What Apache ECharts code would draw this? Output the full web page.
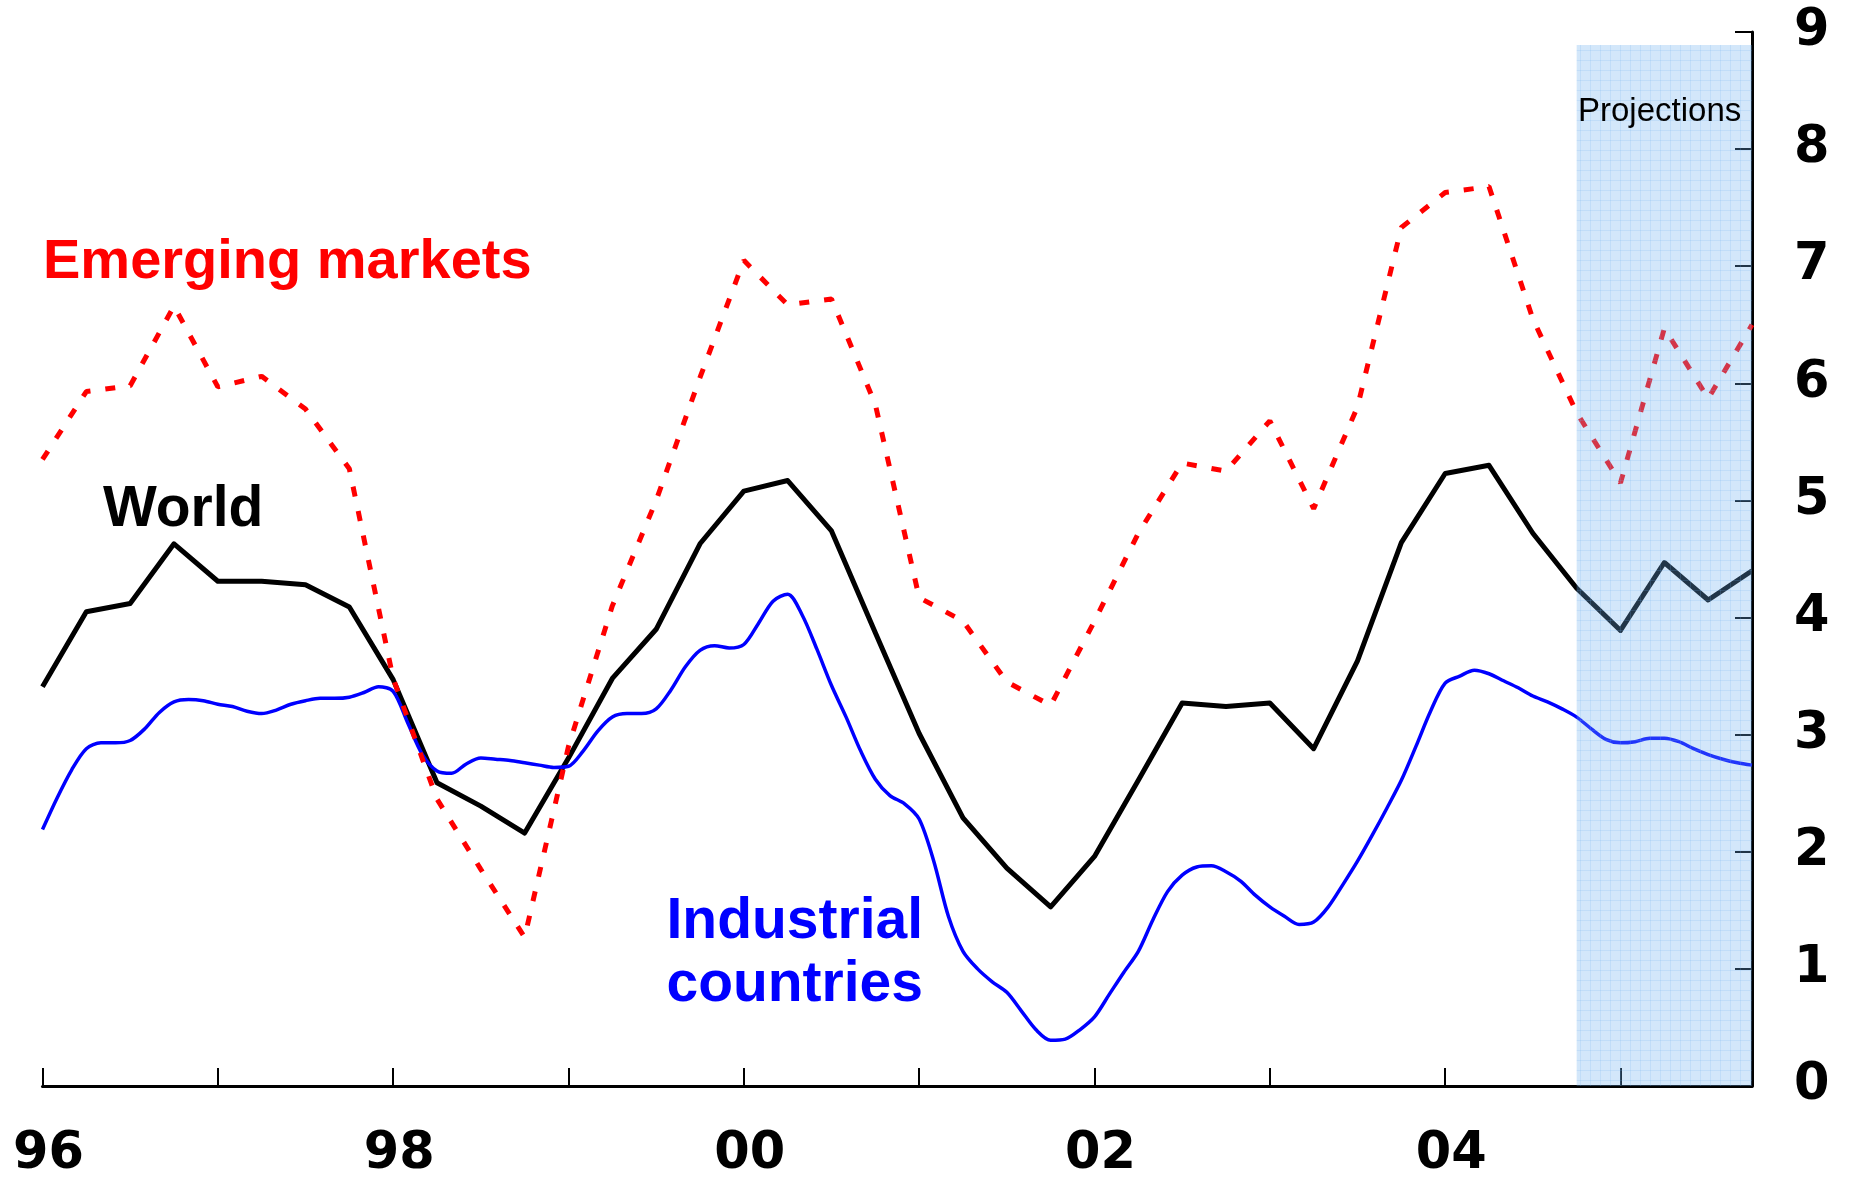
<!DOCTYPE html>
<html>
<head>
<meta charset="utf-8">
<script src="https://cdn.jsdelivr.net/npm/echarts@6/dist/echarts.min.js"></script>
<style>
  html, body { margin: 0; padding: 0; background: #fff; }
  #chart { width: 1850px; height: 1178px; }
</style>
</head>
<body>
<div id="chart"></div>
<script>
// quarterly dates, 1996Q1 .. 2005Q4
const quarters = Array.from({ length: 40 }, (_, i) => 1996 + i / 4)
// monthly dates for the industrial countries line
const months = Array.from({ length: 118 }, (_, i) => 1996 + i / 12)

const world = [
  3.41, 4.05, 4.12, 4.63, 4.31, 4.31, 4.28, 4.09, 3.47, 2.59,
  2.39, 2.16, 2.80, 3.48, 3.90, 4.63, 5.08, 5.17, 4.74, 3.87,
  3.01, 2.29, 1.86, 1.53, 1.96, 2.61, 3.27, 3.24, 3.27, 2.88,
  3.63, 4.64, 5.23, 5.30, 4.72, 4.25, 3.89, 4.47, 4.15, 4.40
]
const emerging = [
  5.35, 5.93, 5.98, 6.66, 5.97, 6.06, 5.78, 5.27, 3.48, 2.45,
  1.85, 1.27, 2.90, 4.10, 5.00, 6.05, 7.05, 6.67, 6.72, 5.82,
  4.17, 3.97, 3.45, 3.25, 3.97, 4.72, 5.32, 5.25, 5.68, 4.93,
  5.80, 7.33, 7.63, 7.68, 6.55, 5.75, 5.15, 6.47, 5.87, 6.50
]
const industrial = [
  2.19, 2.46, 2.70, 2.88, 2.93, 2.93, 2.95, 3.05, 3.19, 3.28, 3.30, 3.29,
  3.26, 3.24, 3.20, 3.18, 3.21, 3.26, 3.29, 3.31, 3.31, 3.32, 3.36, 3.41,
  3.37, 3.10, 2.83, 2.69, 2.67, 2.75, 2.80, 2.79, 2.78, 2.76, 2.74, 2.72,
  2.73, 2.86, 3.03, 3.15, 3.18, 3.18, 3.22, 3.38, 3.58, 3.72, 3.76, 3.74,
  3.77, 3.95, 4.14, 4.20, 4.02, 3.73, 3.42, 3.15, 2.86, 2.62, 2.48, 2.41,
  2.28, 1.92, 1.45, 1.15, 1.00, 0.89, 0.80, 0.64, 0.48, 0.39, 0.40, 0.48,
  0.59, 0.78, 0.97, 1.15, 1.42, 1.66, 1.80, 1.87, 1.88, 1.83, 1.75, 1.63,
  1.53, 1.45, 1.38, 1.40, 1.53, 1.72, 1.92, 2.14, 2.37, 2.61, 2.90, 3.20,
  3.44, 3.50, 3.55, 3.52, 3.46, 3.40, 3.33, 3.28, 3.22, 3.15, 3.05, 2.96,
  2.93, 2.94, 2.97, 2.97, 2.94, 2.88, 2.83, 2.79, 2.76, 2.74
]

const labelYears = [1996, 1998, 2000, 2002, 2004]
const labelText = ['96', '98', '00', '02', '04']
const projection = [2004.75, 2005.75]
const projectionTop = 8.89

// light blue squared texture for the projections box
function gridPattern() {
  const c = document.createElement('canvas')
  c.width = 10
  c.height = 10
  const ctx = c.getContext('2d')
  ctx.fillStyle = 'rgba(110,175,240,0.30)'
  ctx.fillRect(0, 0, 10, 10)
  ctx.fillStyle = 'rgba(110,175,240,0.18)'
  ctx.fillRect(0, 0, 10, 1)
  ctx.fillRect(0, 0, 1, 10)
  return c
}

const axisFont = {
  color: '#000',
  fontFamily: 'DejaVu Sans',
  fontWeight: 'bold',
  fontSize: 51
}

const chart = echarts.init(document.getElementById('chart'))

chart.setOption({
  animation: false,
  backgroundColor: '#fff',
  grid: { left: 42.5, right: 98, top: 32, bottom: 92, outerBoundsMode: 'none' },
  xAxis: {
    type: 'value',
    min: 1996,
    max: 2005.75,
    interval: 1,
    splitLine: { show: false },
    axisLine: { lineStyle: { color: '#000', width: 3 } },
    axisTick: { inside: true, length: 18, lineStyle: { color: '#000', width: 2 } },
    axisLabel: Object.assign({
      margin: 43,
      padding: [0, 0, 0, 12],
      showMaxLabel: false,
      formatter: v => {
        const i = labelYears.indexOf(v)
        return i >= 0 ? labelText[i] : ''
      }
    }, axisFont)
  },
  yAxis: {
    type: 'value',
    position: 'right',
    min: 0,
    max: 9,
    interval: 1,
    splitLine: { show: false },
    axisLine: { show: true, lineStyle: { color: '#000', width: 3 } },
    axisTick: { show: true, inside: true, length: 17, lineStyle: { color: '#000', width: 2 } },
    axisLabel: Object.assign({ margin: 42 }, axisFont)
  },
  series: [
    {
      name: 'World',
      type: 'line',
      showSymbol: false,
      data: quarters.map((t, i) => [t, world[i]]),
      lineStyle: { color: '#000', width: 5, join: 'round' },
      z: 2
    },
    {
      name: 'Industrial countries',
      type: 'line',
      showSymbol: false,
      smooth: 0.3,
      data: months.map((t, i) => [t, industrial[i]]),
      lineStyle: { color: '#0000ff', width: 3.5 },
      z: 3
    },
    {
      name: 'Emerging markets',
      type: 'line',
      showSymbol: false,
      data: quarters.map((t, i) => [t, emerging[i]]),
      lineStyle: { color: '#ff0000', width: 5, type: [10, 15], cap: 'butt' },
      z: 4
    },
    {
      name: 'Projections',
      type: 'line',
      data: [],
      z: 10,
      markArea: {
        silent: true,
        z: 10,
        itemStyle: { color: { image: gridPattern(), repeat: 'repeat' } },
        data: [[
          { xAxis: projection[0], yAxis: projectionTop },
          { xAxis: projection[1], yAxis: 0 }
        ]]
      }
    }
  ],
  graphic: [
    {
      type: 'text', x: 1578, y: 112, z: 20,
      style: {
        text: 'Projections', fill: '#000',
        font: '33px "Liberation Sans"',
        textAlign: 'left', textVerticalAlign: 'middle', align: 'left', verticalAlign: 'middle'
      }
    },
    {
      type: 'text', x: 43, y: 263, z: 20,
      style: {
        text: 'Emerging markets', fill: '#ff0000',
        font: 'bold 56px "Liberation Sans"',
        textAlign: 'left', textVerticalAlign: 'middle', align: 'left', verticalAlign: 'middle'
      }
    },
    {
      type: 'text', x: 103, y: 510, z: 20,
      style: {
        text: 'World', fill: '#000',
        font: 'bold 57px "Liberation Sans"',
        textAlign: 'left', textVerticalAlign: 'middle', align: 'left', verticalAlign: 'middle'
      }
    },
    {
      type: 'text', x: 923, y: 922, z: 20,
      style: {
        text: 'Industrial', fill: '#0000ff',
        font: 'bold 57px "Liberation Sans"',
        textAlign: 'right', textVerticalAlign: 'middle', align: 'right', verticalAlign: 'middle'
      }
    },
    {
      type: 'text', x: 923, y: 985, z: 20,
      style: {
        text: 'countries', fill: '#0000ff',
        font: 'bold 57px "Liberation Sans"',
        textAlign: 'right', textVerticalAlign: 'middle', align: 'right', verticalAlign: 'middle'
      }
    }
  ]
})
</script>
</body>
</html>
